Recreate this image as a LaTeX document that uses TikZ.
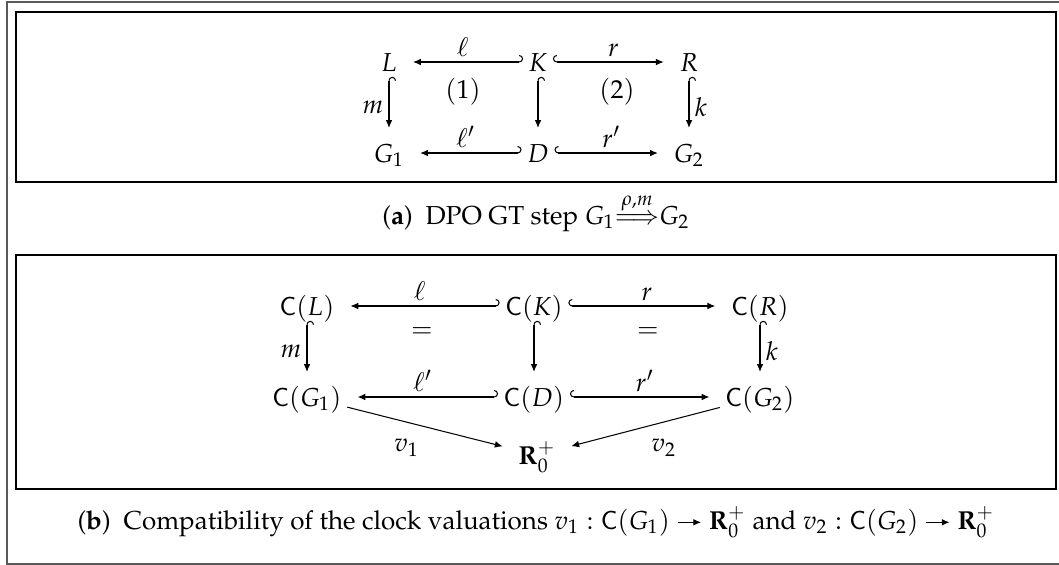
\documentclass[tikz,border=0pt]{standalone}
\usepackage[T1]{fontenc}
\usepackage{mathpazo}
\usepackage{amsmath, amssymb}
\usepackage{tikz}
\usetikzlibrary{arrows.meta}

\newcommand{\valto}{\mathrel{\tikz[baseline=-0.55ex]\draw[line width=0.4pt,-{Latex[length=3pt,width=2.6pt]}] (0pt,0pt) -- (9pt,0pt);}}

\tikzset{
  obj/.style={inner sep=2pt, text height=7pt, text depth=0pt},
  lbl/.style={inner sep=2pt},
  tip/.style={shorten >=4pt},
  hookl/.style={tip, {Hooks[left,length=1.5pt,width=5.4pt]}-{Latex[length=3pt,width=2.6pt]}},
  hookr/.style={tip, {Hooks[right,length=1.5pt,width=5.4pt]}-{Latex[length=3pt,width=2.6pt]}},
  arr/.style={tip, -{Latex[length=3pt,width=2.6pt]}},
  frame/.style={line width=0.5pt}
}

\begin{document}
\begin{tikzpicture}[x=0.385pt, y=-0.385pt]
\useasboundingbox (0,0) rectangle (1059,565);

% outer frame and the two boxes
\draw[frame, gray!70!black] (1065,2) -- (7,2) -- (7,564) -- (1065,564);
\draw[frame] (16,12) rectangle (1056,182);
\draw[frame] (16,255) rectangle (1056,489);

% (a) DPO step
\node[obj] (L)  at (389,62)  {$L$};
\node[obj] (K)  at (538,62)  {$K$};
\node[obj] (R)  at (689,62)  {$R$};
\node[obj] (G1) at (389,153) {$G_1$};
\node[obj] (D)  at (538,153) {$D$};
\node[obj] (G2) at (689,153) {$G_2$};

\draw[hookl] (K) -- node[lbl, above] {$\ell$} (L);
\draw[hookr] (K) -- node[lbl, above] {$r$} (R);
\draw[hookl] (D) -- node[lbl, above] {$\ell'$} (G1);
\draw[hookr] (D) -- node[lbl, above] {$r'$} (G2);
\draw[hookr] (L) -- node[lbl, left] {$m$} (G1);
\draw[hookr] (K) -- (D);
\draw[hookr] (R) -- node[lbl, right] {$k$} (G2);

\node (sq1) at (463,92) {$(1)$};
\node (sq2) at (617,92) {$(2)$};

\node[anchor=base] (capa) at (536,224)
  {(\textbf{a})\enspace DPO GT step $G_1{\stackrel{\rho,m}{\Longrightarrow}}G_2$};

% (b) clock valuations
\node[obj] (CL)  at (307,306) {$\mathsf{C}(L)$};
\node[obj] (CK)  at (534,306) {$\mathsf{C}(K)$};
\node[obj] (CR)  at (760,306) {$\mathsf{C}(R)$};
\node[obj] (CG1) at (307,397) {$\mathsf{C}(G_1)$};
\node[obj] (CD)  at (534,397) {$\mathsf{C}(D)$};
\node[obj] (CG2) at (760,397) {$\mathsf{C}(G_2)$};
\node[obj] (Rp)  at (537,455) {$\mathbf{R}_0^+$};

\draw[hookl] (CK) -- node[lbl, above] {$\ell$} (CL);
\draw[hookr] (CK) -- node[lbl, above] {$r$} (CR);
\draw[hookl] (CD) -- node[lbl, above] {$\ell'$} (CG1);
\draw[hookr] (CD) -- node[lbl, above] {$r'$} (CG2);
\draw[hookr] (CL) -- node[lbl, left] {$m$} (CG1);
\draw[hookr] (CK) -- (CD);
\draw[hookr] (CR) -- node[lbl, right] {$k$} (CG2);
\draw[arr] (CG1) -- node[lbl, below left=2pt] {$v_1$} (Rp);
\draw[arr] (CG2) -- node[lbl, below right=2pt] {$v_2$} (Rp);

\node (eq1) at (422,333) {$=$};
\node (eq2) at (648,333) {$=$};

\node[anchor=base] (capb) at (536,529)
  {(\textbf{b})\enspace Compatibility of the clock valuations
   $v_1:\mathsf{C}(G_1)\valto\mathbf{R}_0^+$ and $v_2:\mathsf{C}(G_2)\valto\mathbf{R}_0^+$};
\end{tikzpicture}
\end{document}
